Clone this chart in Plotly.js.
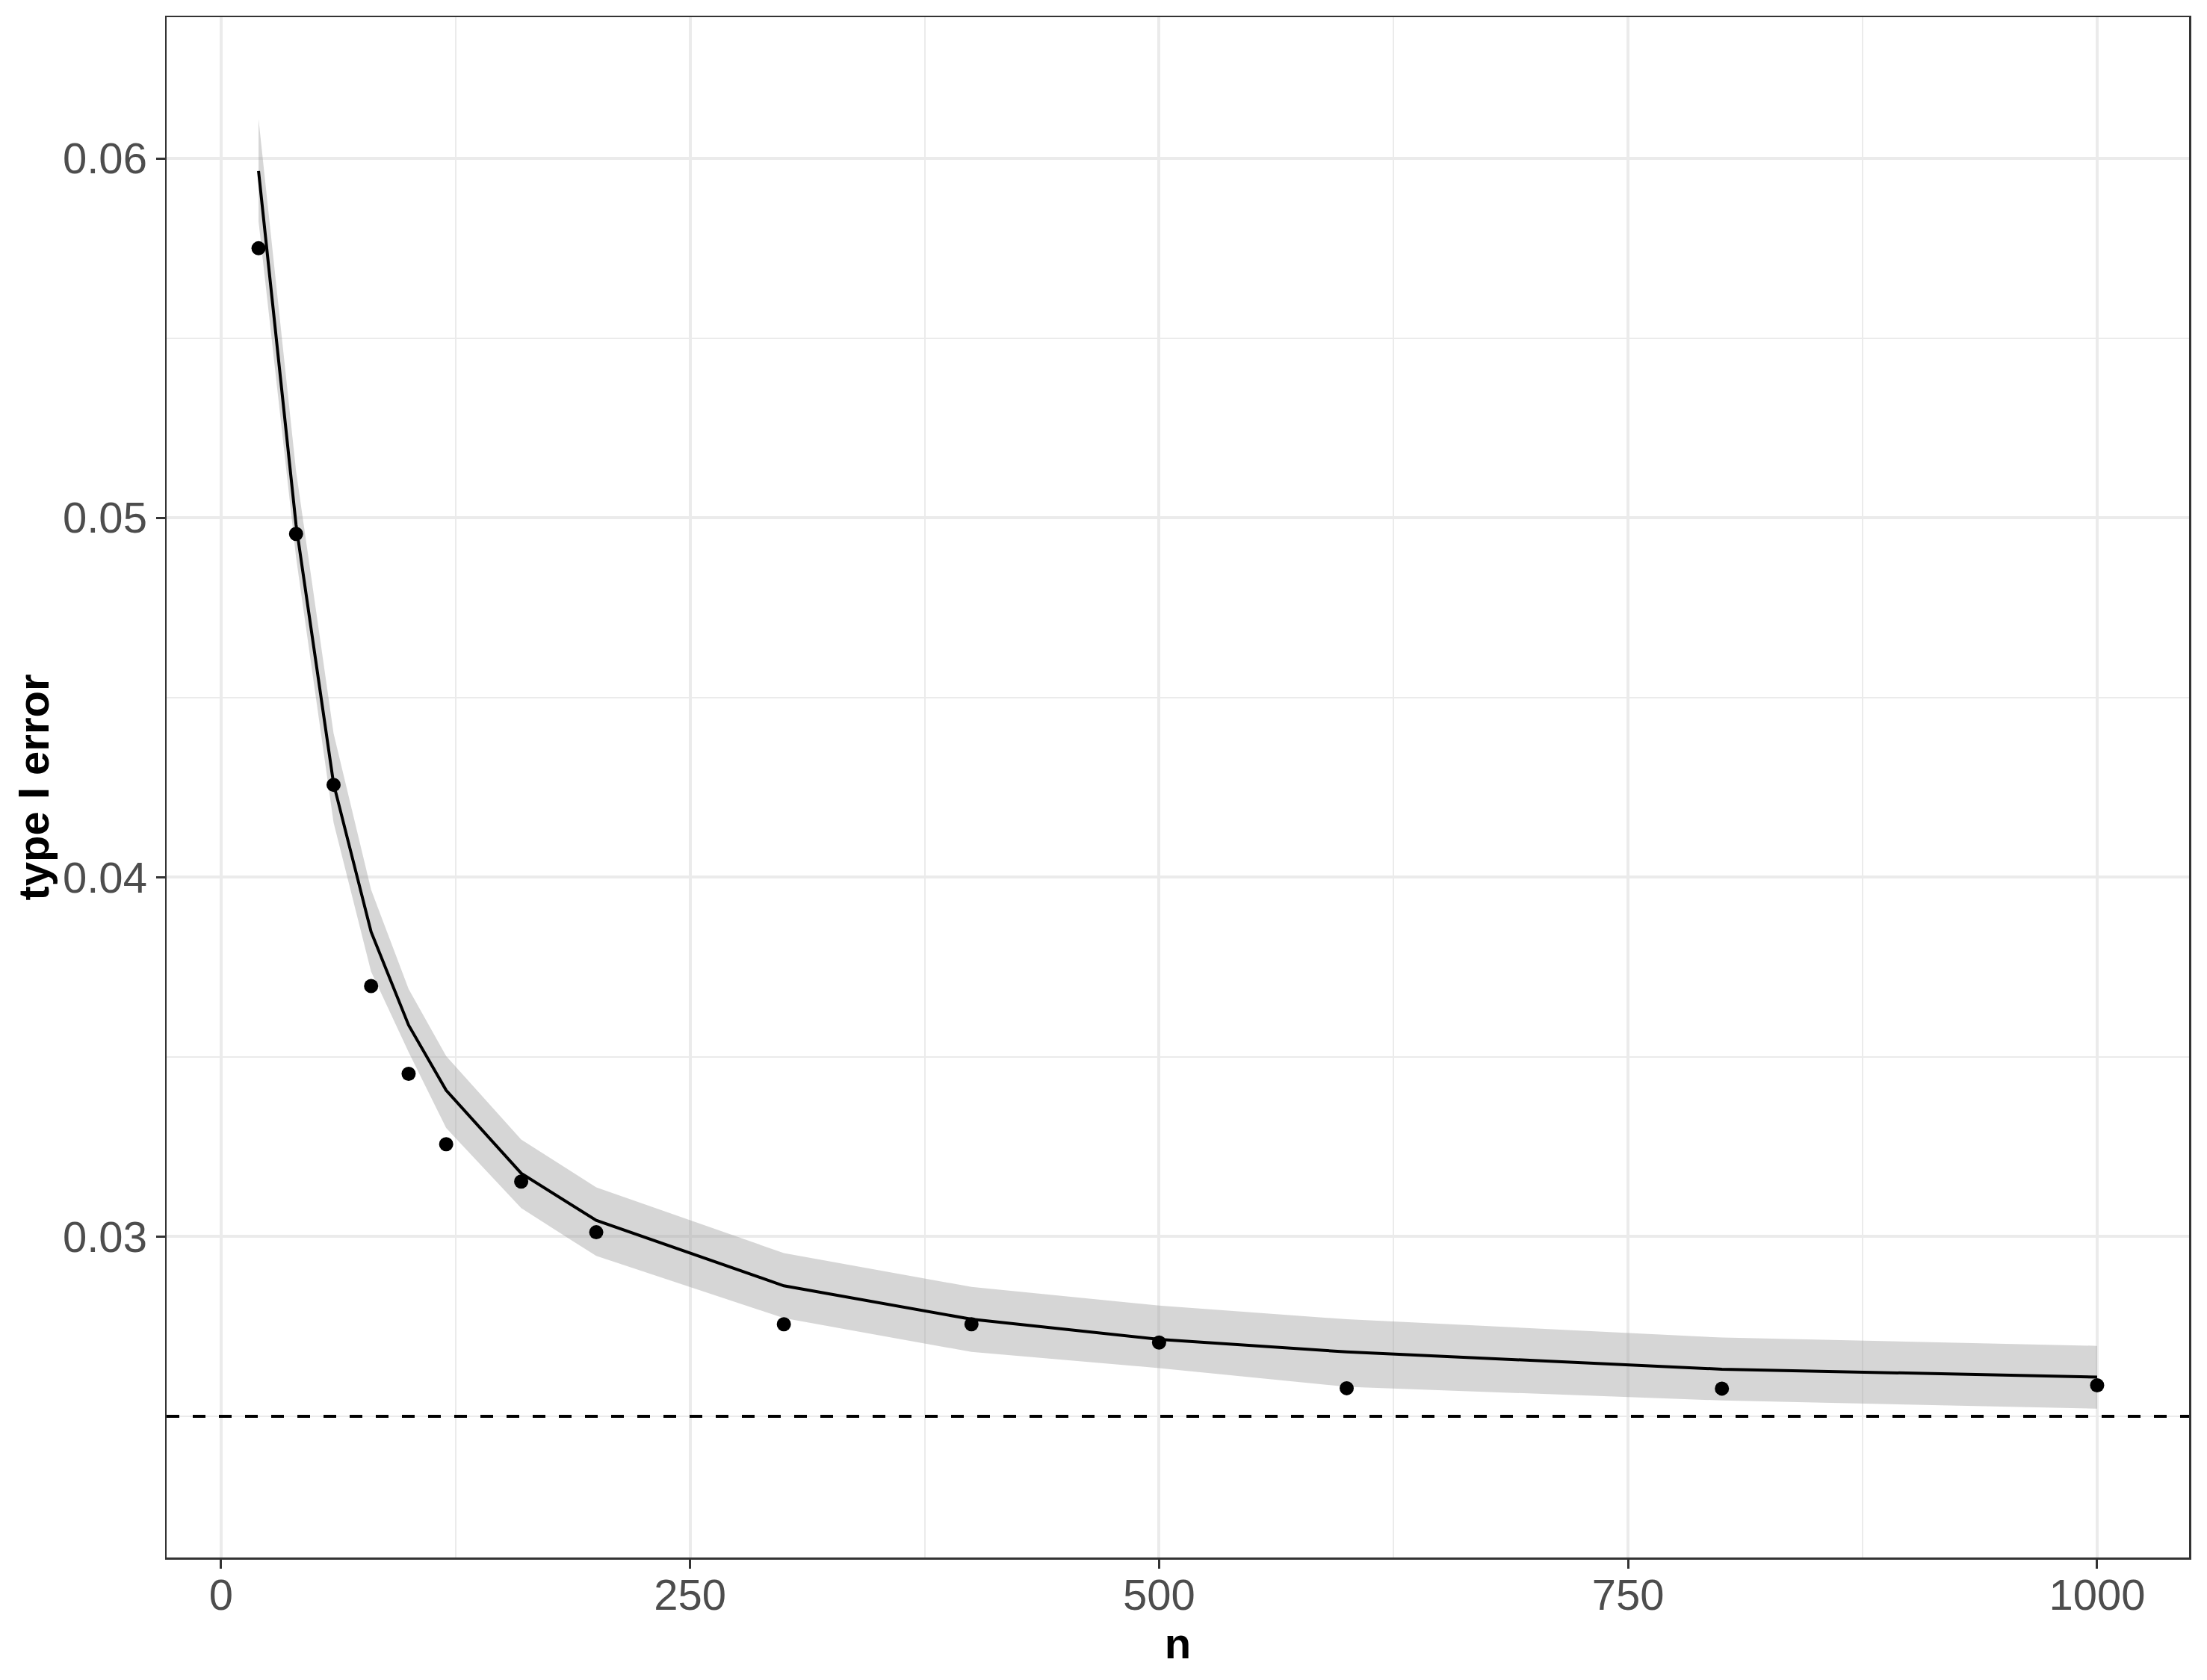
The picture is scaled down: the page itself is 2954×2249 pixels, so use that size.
<!DOCTYPE html>
<html>
<head>
<meta charset="utf-8">
<script src="https://cdn.plot.ly/plotly-3.0.1.min.js"></script>
<style>
  html, body { margin: 0; padding: 0; background: #ffffff; }
  #chart { width: 2954px; height: 2249px; }
</style>
</head>
<body>
<div id="chart"></div>
<script>
// sample sizes
var n = [20, 40, 60, 80, 100, 120, 160, 200, 300, 400, 500, 600, 800, 1000];

// observed type I error (points)
var observed = [0.0575, 0.04955, 0.04257, 0.03697, 0.03453, 0.03257, 0.03153, 0.03012,
                0.02756, 0.02756, 0.02705, 0.02578, 0.02577, 0.02586];

// fitted curve and its confidence band
var fitted = [0.05965, 0.0498, 0.0426, 0.03848, 0.03588, 0.03407, 0.03176, 0.03045,
              0.02863, 0.0277, 0.02714, 0.02679, 0.02631, 0.02609];
var lower = [0.05825, 0.0489, 0.04152, 0.03737, 0.03513, 0.03302, 0.03079, 0.02946,
             0.02773, 0.02679, 0.02634, 0.02582, 0.02544, 0.02521];
var upper = [0.0611, 0.0513, 0.0440, 0.03965, 0.03689, 0.03502, 0.0327, 0.03137,
             0.02954, 0.0286, 0.02808, 0.0277, 0.02719, 0.02696];

// nominal level (dashed line)
var nominal = 0.025;

var xTicks = [0, 250, 500, 750, 1000];
var yTicks = [0.03, 0.04, 0.05, 0.06];
var yTickLabels = ['0.03', '0.04', '0.05', '0.06'];

var data = [
    // lower edge of band (invisible)
    {
        x: n, y: lower, type: 'scatter', mode: 'lines',
        line: {width: 0, color: 'rgba(0,0,0,0)'},
        hoverinfo: 'skip', showlegend: false
    },
    // upper edge, filled down to lower edge
    {
        x: n, y: upper, type: 'scatter', mode: 'lines',
        line: {width: 0, color: 'rgba(0,0,0,0)'},
        fill: 'tonexty', fillcolor: 'rgba(153,153,153,0.4)',
        hoverinfo: 'skip', showlegend: false
    },
    // fitted line
    {
        x: n, y: fitted, type: 'scatter', mode: 'lines',
        line: {width: 4, color: '#000000'},
        showlegend: false
    },
    // observed points
    {
        x: n, y: observed, type: 'scatter', mode: 'markers',
        marker: {size: 19, color: '#000000'},
        showlegend: false
    }
];

var gridColor = '#EBEBEB';

var layout = {
    width: 2954,
    height: 2249,
    margin: {l: 223, r: 24, t: 23, b: 164},
    paper_bgcolor: '#ffffff',
    plot_bgcolor: '#ffffff',
    font: {family: '"Liberation Sans", Arial, sans-serif', size: 58, color: '#4D4D4D'},
    showlegend: false,
    xaxis: {
        range: [-29, 1049],
        tickvals: xTicks,
        ticktext: xTicks.map(String),
        ticks: 'outside', ticklen: 12, tickwidth: 3, tickcolor: '#333333',
        tickfont: {size: 58, color: '#4D4D4D'},
        ticklabelstandoff: -14,
        showgrid: true, gridcolor: gridColor, gridwidth: 4,
        minor: {tickvals: [125, 375, 625, 875], showgrid: true, gridcolor: gridColor, gridwidth: 2, ticks: ''},
        zeroline: false,
        showline: true, linecolor: '#333333', linewidth: 2.5, mirror: true,
        title: {text: '<b>n</b>', font: {size: 58, color: '#000000'}, standoff: 6}
    },
    yaxis: {
        range: [0.02107, 0.06393],
        tickvals: yTicks,
        ticktext: yTickLabels,
        ticks: 'outside', ticklen: 12, tickwidth: 3, tickcolor: '#333333',
        tickfont: {size: 58, color: '#4D4D4D'},
        showgrid: true, gridcolor: gridColor, gridwidth: 4,
        minor: {tickvals: [0.025, 0.035, 0.045, 0.055], showgrid: true, gridcolor: gridColor, gridwidth: 2, ticks: ''},
        zeroline: false,
        showline: true, linecolor: '#333333', linewidth: 2.5, mirror: true,
        title: {text: '<b>type I error</b>', font: {size: 58, color: '#000000'}, standoff: 0}
    },
    shapes: [
        {
            type: 'line', xref: 'paper', yref: 'y',
            x0: 0, x1: 1, y0: nominal, y1: nominal,
            line: {color: '#000000', width: 4, dash: '17px,18px'}
        }
    ]
};

Plotly.newPlot('chart', data, layout, {staticPlot: true});
</script>
</body>
</html>
